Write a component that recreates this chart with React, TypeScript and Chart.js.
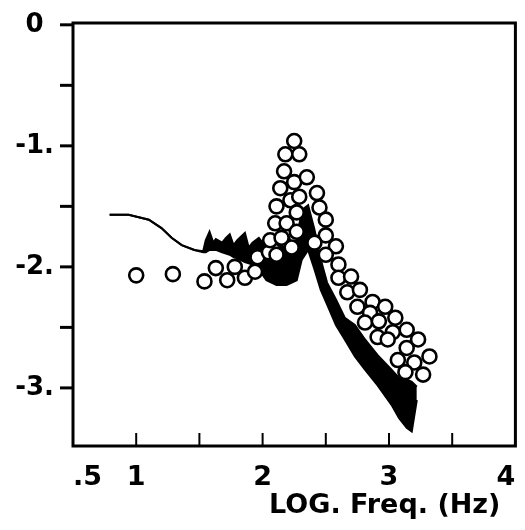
import React, { useEffect, useRef } from 'react';
import { Chart, registerables } from 'chart.js';

Chart.register(...registerables);

const X_MIN = 0.5;
const X_MAX = 4;
const Y_MIN = -3.48;
const Y_MAX = 0.015;

const xTickValues = [0.5, 1, 1.5, 2, 2.5, 3, 3.5, 4];
const xTickLabels: Record<string, string> = { '0.5': '.5', '1': '1', '2': '2', '3': '3', '4': '4' };
const xInnerTicks = [1, 1.5, 2, 2.5, 3, 3.5];
const yTickValues = [0, -0.5, -1, -1.5, -2, -2.5, -3];
const yTickLabels: Record<string, string> = { '0': '0', '-1': '-1.', '-2': '-2.', '-3': '-3.' };
const xTitle = 'LOG. Freq. (Hz)';

// measured trace (upper / lower envelope of the noisy line)
const lineX = [0.79, 0.94, 1.10, 1.20, 1.28, 1.36, 1.46, 1.53, 1.55, 1.58, 1.61, 1.63, 1.68, 1.71, 1.74, 1.77, 1.80, 1.86, 1.89, 1.92, 1.97, 2.03, 2.11, 2.19, 2.27, 2.31, 2.36, 2.41, 2.46, 2.51, 2.58, 2.65, 2.73, 2.81, 2.91, 3.02, 3.08, 3.14, 3.18, 3.22];
const lineUpper = [-1.57, -1.57, -1.61, -1.68, -1.76, -1.82, -1.86, -1.87, -1.78, -1.71, -1.80, -1.77, -1.80, -1.76, -1.73, -1.82, -1.78, -1.72, -1.84, -1.80, -1.76, -1.84, -1.86, -1.82, -1.78, -1.53, -1.49, -1.69, -1.94, -2.13, -2.27, -2.42, -2.48, -2.60, -2.73, -2.85, -2.92, -2.93, -2.95, -2.99];
const lineLower = [-1.57, -1.57, -1.61, -1.68, -1.76, -1.82, -1.86, -1.88, -1.88, -1.86, -1.86, -1.86, -1.88, -1.89, -1.90, -1.92, -1.93, -1.96, -1.97, -1.98, -2.02, -2.11, -2.15, -2.15, -2.11, -1.94, -1.86, -2.02, -2.19, -2.31, -2.48, -2.60, -2.74, -2.85, -2.98, -3.14, -3.25, -3.33, -3.36, -3.10];

// open circles
const circleX = [1.00, 1.29, 1.54, 1.63, 1.72, 1.78, 1.86, 1.94, 1.96, 2.05, 2.06, 2.16, 2.10, 2.19, 2.27, 2.11, 2.22, 2.14, 2.29, 2.17, 2.25, 2.18, 2.29, 2.25, 2.35, 2.43, 2.45, 2.27, 2.50, 2.50, 2.41, 2.23, 2.11, 2.15, 2.58, 2.50, 2.60, 2.60, 2.70, 2.67, 2.77, 2.75, 2.87, 2.97, 2.85, 2.81, 2.92, 3.05, 3.14, 3.03, 2.91, 3.23, 2.99, 3.14, 3.32, 3.07, 3.20, 3.13, 3.27];
const circleY = [-2.07, -2.06, -2.12, -2.01, -2.11, -2.00, -2.09, -2.04, -1.92, -1.88, -1.78, -1.78, -1.64, -1.64, -1.71, -1.50, -1.45, -1.35, -1.42, -1.21, -1.30, -1.07, -1.07, -0.96, -1.26, -1.39, -1.51, -1.55, -1.61, -1.74, -1.80, -1.84, -1.90, -1.76, -1.83, -1.90, -1.98, -2.09, -2.08, -2.21, -2.19, -2.33, -2.29, -2.33, -2.38, -2.46, -2.45, -2.42, -2.52, -2.54, -2.58, -2.60, -2.60, -2.67, -2.74, -2.77, -2.79, -2.87, -2.89];

const FONT = '"DejaVu Sans", sans-serif';

const framePlugin = {
  id: 'frame',
  afterDatasetsDraw(chart: any) {
    const { ctx, chartArea } = chart;
    const xs = chart.scales.x;
    const ys = chart.scales.y;
    ctx.save();
    ctx.strokeStyle = '#000';
    ctx.lineWidth = 3;
    ctx.strokeRect(chartArea.left, chartArea.top, chartArea.right - chartArea.left, chartArea.bottom - chartArea.top);
    ctx.lineWidth = 3;
    yTickValues.forEach((v) => {
      const py = ys.getPixelForValue(v);
      ctx.beginPath();
      ctx.moveTo(chartArea.left - 13, py);
      ctx.lineTo(chartArea.left, py);
      ctx.stroke();
    });
    ctx.lineWidth = 2;
    xInnerTicks.forEach((v) => {
      const px = xs.getPixelForValue(v);
      ctx.beginPath();
      ctx.moveTo(px, chartArea.bottom);
      ctx.lineTo(px, chartArea.bottom - 13);
      ctx.stroke();
    });
    ctx.fillStyle = '#000';
    ctx.font = `bold 27px ${FONT}`;
    ctx.textAlign = 'right';
    ctx.textBaseline = 'alphabetic';
    ctx.fillText(xTitle, chartArea.right - 15, chartArea.bottom + 67);
    ctx.restore();
  },
};

export default function App() {
  const ref = useRef<HTMLCanvasElement | null>(null);

  useEffect(() => {
    if (!ref.current) return;
    const chart = new Chart(ref.current, {
      type: 'scatter',
      data: {
        datasets: [
          {
            type: 'scatter',
            data: circleX.map((x, i) => ({ x, y: circleY[i] })),
            pointRadius: 7,
            pointBackgroundColor: '#fff',
            pointBorderColor: '#000',
            pointBorderWidth: 2.6,
            showLine: false,
            order: 0,
          } as any,
          {
            type: 'line',
            data: lineX.map((x, i) => ({ x, y: lineUpper[i] })),
            borderColor: '#000',
            borderWidth: 2,
            pointRadius: 0,
            fill: false,
            tension: 0,
            order: 2,
          } as any,
          {
            type: 'line',
            data: lineX.map((x, i) => ({ x, y: lineLower[i] })),
            borderColor: '#000',
            backgroundColor: '#000',
            borderWidth: 2,
            pointRadius: 0,
            fill: '-1',
            tension: 0,
            order: 1,
          } as any,
        ],
      },
      options: {
        responsive: false,
        animation: false,
        layout: { padding: { top: 23, right: 3.5, left: 0, bottom: 0 } },
        plugins: { legend: { display: false }, tooltip: { enabled: false } },
        scales: {
          x: {
            type: 'linear',
            min: X_MIN,
            max: X_MAX,
            grid: { display: false },
            border: { display: false },
            afterBuildTicks: (s: any) => {
              s.ticks = xTickValues.map((v) => ({ value: v }));
            },
            afterFit: (s: any) => {
              s.height = 84;
              s.paddingLeft = 0;
              s.paddingRight = 0;
            },
            ticks: {
              autoSkip: false,
              maxRotation: 0,
              align: 'inner',
              padding: 8,
              color: '#000',
              font: { family: FONT, size: 27, weight: 'bold' },
              callback: (v: any) => xTickLabels[String(v)] ?? '',
            },
          },
          y: {
            type: 'linear',
            min: Y_MIN,
            max: Y_MAX,
            grid: { display: false },
            border: { display: false },
            afterBuildTicks: (s: any) => {
              s.ticks = yTickValues.map((v) => ({ value: v }));
            },
            afterFit: (s: any) => {
              s.width = 73;
              s.paddingTop = 0;
              s.paddingBottom = 0;
            },
            ticks: {
              autoSkip: false,
              crossAlign: 'center',
              padding: 11,
              color: '#000',
              font: { family: FONT, size: 26, weight: 'bold' },
              callback: (v: any) => yTickLabels[String(v)] ?? '',
            },
          },
        },
      } as any,
      plugins: [framePlugin],
    });
    return () => chart.destroy();
  }, []);

  return (
    <div style={{ position: 'absolute', left: 0, top: 0, width: 525, height: 530, background: '#fff' }}>
      <canvas ref={ref} width={525} height={530} style={{ width: 525, height: 530 }} />
    </div>
  );
}
